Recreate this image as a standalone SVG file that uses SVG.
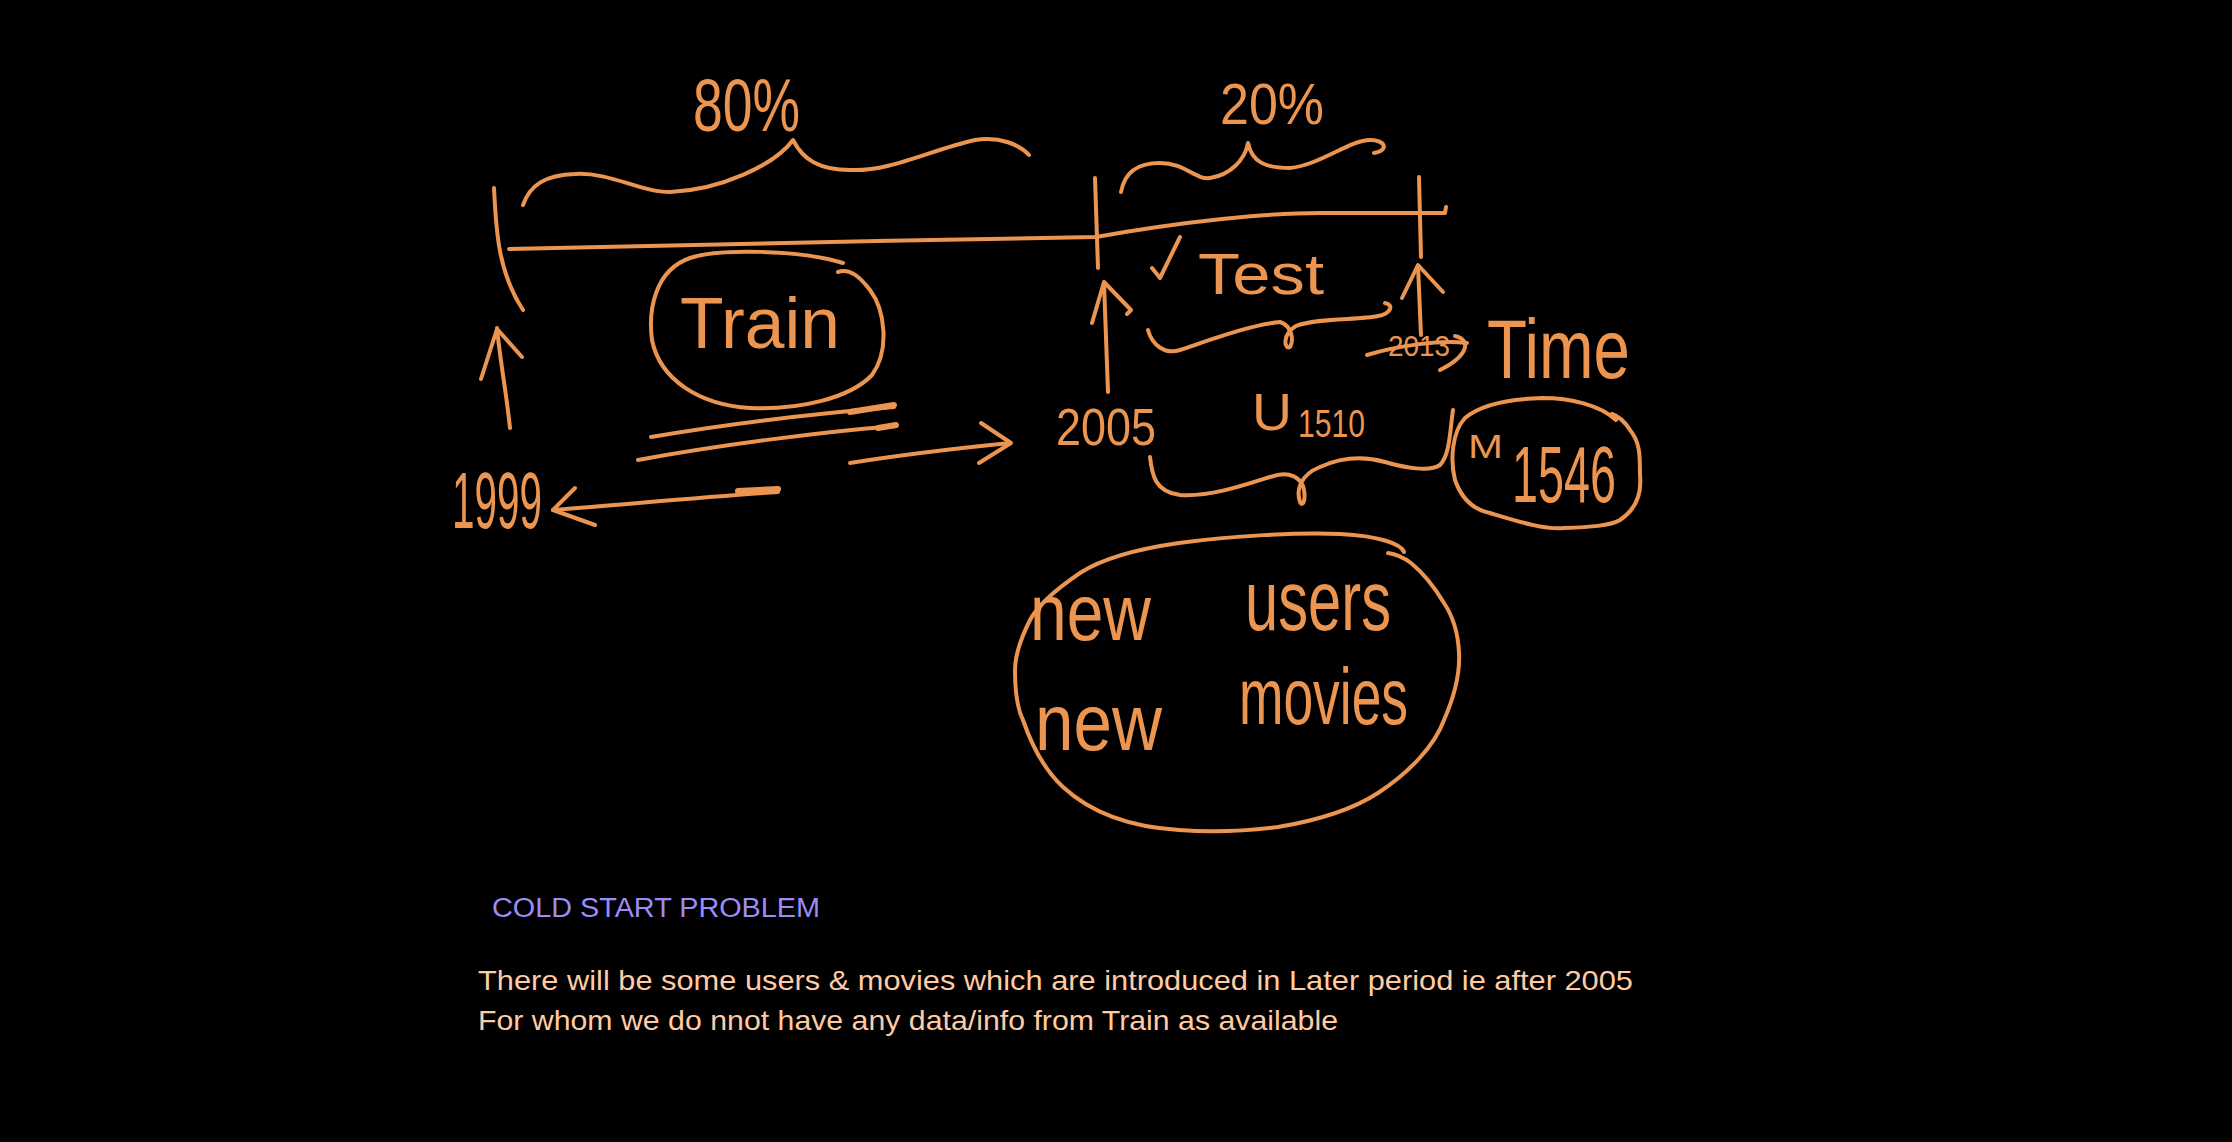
<svg xmlns="http://www.w3.org/2000/svg" width="2232" height="1142" viewBox="0 0 2232 1142">
<style>
.s{fill:none;stroke:#EB9550;stroke-width:4;stroke-linecap:round;stroke-linejoin:round}
.k{stroke-width:6}
.h{fill:#EB9550;font-family:"Liberation Sans","DejaVu Sans",sans-serif}
.t1{fill:#9D8CF5;font-family:"Liberation Sans","DejaVu Sans",sans-serif;font-size:27px}
.t2{fill:#FFCBA4;font-family:"Liberation Sans","DejaVu Sans",sans-serif;font-size:28px}
</style>
<rect width="2232" height="1142" fill="#000"/>

<g id="timeline">
  <path class="s" d="M494,188 C496,230 498,272 523,310"/>
  <path class="s" d="M509,249 C650,246 900,240 1096,237 C1180,222 1270,212 1330,213 L1445,213 L1446,207"/>
  <path class="s" stroke-width="5" d="M1095,178 L1098,268"/>
  <path class="s" d="M1419,177 L1421,257"/>
</g>

<g id="brace-80">
  <path class="s" d="M523,205 C530,185 545,175 575,174 C610,172 640,192 670,192 C720,190 775,165 793,140 C803,160 820,170 850,170 C890,172 930,150 975,140 C1000,136 1020,145 1029,155"/>
  <text class="h" x="693" y="131" font-size="75" textLength="107" lengthAdjust="spacingAndGlyphs">80%</text>
</g>

<g id="brace-20">
  <path class="s" d="M1121,192 C1125,170 1140,163 1160,163 C1185,163 1195,180 1210,178 C1230,175 1245,160 1248,143 C1252,162 1265,168 1290,168 C1320,165 1350,140 1370,140 C1385,140 1390,150 1374,153"/>
  <text class="h" x="1220" y="124" font-size="58" textLength="104" lengthAdjust="spacingAndGlyphs">20%</text>
</g>

<g id="train">
  <path class="s" d="M843,263 C800,250 720,248 690,258 C655,270 648,310 652,340 C660,380 700,405 750,408 C800,410 850,398 872,375 C890,350 885,310 870,290 C860,277 850,268 838,272"/>
  <text class="h" x="680" y="348" font-size="72" textLength="160" lengthAdjust="spacingAndGlyphs">Train</text>
</g>

<g id="test">
  <path class="s" d="M1152,268 L1160,278 L1180,237"/>
  <text class="h" x="1198" y="294" font-size="58" textLength="126" lengthAdjust="spacingAndGlyphs">Test</text>
  <path class="s" d="M1148,330 C1152,345 1165,355 1180,350 C1210,340 1250,325 1280,322 C1292,326 1294,340 1290,347 C1284,350 1282,334 1296,326 C1315,318 1360,320 1378,316 C1390,314 1395,305 1385,303"/>
</g>

<g id="time">
  <path class="s" d="M1367,355 C1400,345 1440,340 1467,343"/>
  <path class="s" d="M1455,336 C1472,340 1468,356 1440,370"/>
  <text class="h" x="1388" y="356" font-size="30" textLength="62" lengthAdjust="spacingAndGlyphs">2013</text>
  <text class="h" x="1487" y="378" font-size="84" textLength="143" lengthAdjust="spacingAndGlyphs">Time</text>
</g>

<g id="year-1999">
  <text class="h" x="452" y="528" font-size="80" textLength="90" lengthAdjust="spacingAndGlyphs">1999</text>
</g>

<g id="year-2005">
  <text class="h" x="1056" y="445" font-size="52" textLength="100" lengthAdjust="spacingAndGlyphs">2005</text>
</g>

<g id="users-1510">
  <text class="h" x="1252" y="430" font-size="52" textLength="40" lengthAdjust="spacingAndGlyphs">U</text>
  <text class="h" x="1298" y="437" font-size="38" textLength="67" lengthAdjust="spacingAndGlyphs">1510</text>
  <path class="s" d="M1150,457 C1152,475 1155,492 1180,495 C1210,497 1245,485 1270,477 C1290,470 1302,478 1304,490 C1306,502 1302,507 1300,502 C1296,490 1300,475 1320,467 C1340,458 1360,455 1385,462 C1405,468 1430,472 1440,465 C1450,455 1450,430 1453,410"/>
</g>

<g id="movies-1546">
  <path class="s" d="M1616,420 C1600,405 1570,398 1542,398 C1510,399 1480,405 1465,418 C1452,432 1450,460 1455,480 C1462,500 1475,510 1490,513 C1520,522 1545,530 1564,528 C1590,527 1610,526 1620,520 C1635,510 1642,495 1640,475 C1640,455 1640,442 1630,430 C1625,422 1618,416 1612,414"/>
  <text class="h" x="1468" y="458" font-size="34" textLength="35" lengthAdjust="spacingAndGlyphs">M</text>
  <text class="h" x="1512" y="502" font-size="80" textLength="104" lengthAdjust="spacingAndGlyphs">1546</text>
</g>

<g id="new-items">
  <path class="s" d="M1404,552 C1401,544 1380,536 1340,534 C1300,532 1230,536 1179,543 C1130,550 1100,560 1080,573 C1055,590 1038,605 1030,620 C1020,640 1015,655 1015,670 C1015,695 1018,710 1023,720 C1035,755 1050,775 1063,787 C1090,812 1130,827 1179,830 C1220,833 1255,830 1278,827 C1320,820 1355,808 1378,793 C1410,772 1435,745 1444,720 C1455,695 1460,672 1459,653 C1458,630 1452,615 1444,603 C1435,588 1422,572 1411,563 C1403,557 1395,554 1388,553"/>
  <text class="h" x="1030" y="640" font-size="80" textLength="121" lengthAdjust="spacingAndGlyphs">new</text>
  <text class="h" x="1245" y="630" font-size="85" textLength="146" lengthAdjust="spacingAndGlyphs">users</text>
  <text class="h" x="1035" y="750" font-size="80" textLength="127" lengthAdjust="spacingAndGlyphs">new</text>
  <text class="h" x="1239" y="724" font-size="80" textLength="169" lengthAdjust="spacingAndGlyphs">movies</text>
</g>

<g id="connectors">
  <path class="s" d="M510,428 C506,390 500,360 497,328"/>
  <path class="s" d="M481,379 L497,329 L522,357"/>
  <path class="s" d="M1108,392 L1104,283"/>
  <path class="s" d="M1092,323 L1104,282 L1131,310 L1127,314"/>
  <path class="s" d="M1421,335 L1418,266"/>
  <path class="s" d="M1402,298 L1418,265 L1443,292"/>
  <path class="s" d="M651,437 C720,425 800,415 894,407"/>
  <path class="s k" d="M850,412 L894,405"/>
  <path class="s" d="M638,460 C720,445 820,432 896,426"/>
  <path class="s k" d="M878,428 L896,425"/>
  <path class="s" d="M850,463 C900,455 960,448 1010,443"/>
  <path class="s" d="M981,423 L1011,443 L979,463"/>
  <path class="s" d="M778,492 C700,497 620,505 553,510"/>
  <path class="s k" d="M738,491 L778,489"/>
  <path class="s" d="M575,488 L553,510 L595,525"/>
</g>

<g id="notes">
  <text class="t1" x="492" y="917" textLength="328" lengthAdjust="spacingAndGlyphs">COLD START PROBLEM</text>
  <text class="t2" x="478" y="990" textLength="1155" lengthAdjust="spacingAndGlyphs">There will be some users &amp; movies which are introduced in Later period ie after 2005</text>
  <text class="t2" x="478" y="1030" textLength="860" lengthAdjust="spacingAndGlyphs">For whom we do nnot have any data/info from Train as available</text>
</g>
</svg>
